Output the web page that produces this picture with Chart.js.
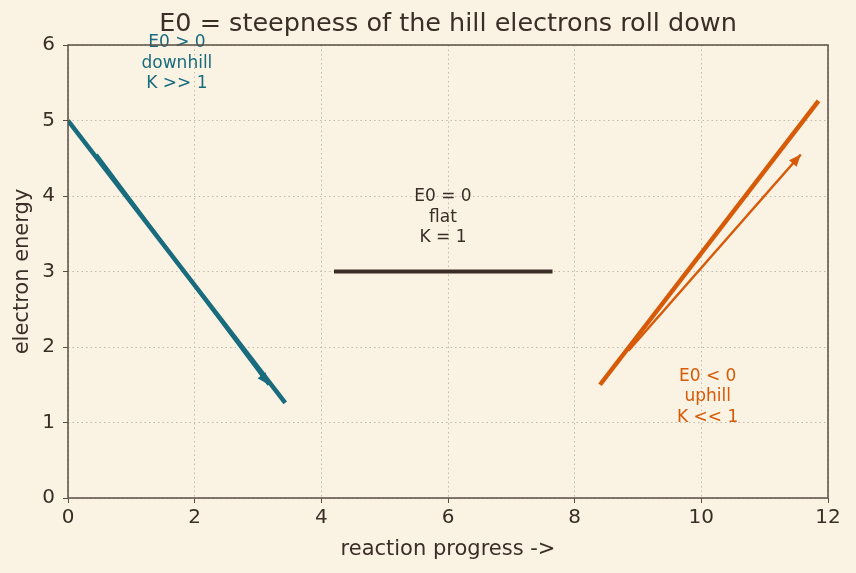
<!DOCTYPE html>
<html lang="en">
<head>
  <meta charset="UTF-8" />
  <title>E0 hill</title>
  <script src="https://cdn.jsdelivr.net/npm/chart.js"></script>
  <style>
    body { margin: 0; background: #faf2e3; }
    #wrap { width: 856px; height: 573px; }
  </style>
</head>
<body>
  <div id="wrap"><canvas id="hill"></canvas></div>
  <script>
    // line ends
    const downhillX = [0, 3.43];
    const downhillY = [5.0, 1.26];
    const downArrowX = [0.45, 3.17];
    const downArrowY = [4.55, 1.5];
    const flatX = [4.2, 7.65];
    const flatY = [3, 3];
    const uphillX = [8.4, 11.85];
    const uphillY = [1.5, 5.26];
    const upArrowX = [8.85, 11.57];
    const upArrowY = [1.95, 4.55];

    const noteText = [['E0 > 0', 'downhill', 'K >> 1'], ['E0 = 0', 'flat', 'K = 1'], ['E0 < 0', 'uphill', 'K << 1']];
    const noteX = [1.72, 5.92, 10.1];
    const noteY = [5.755, 3.72, 1.34];

    const teal = '#186c7d';
    const orange = '#d65a07';
    const ink = '#3a2e26';
    const axisCol = '#5a4e44';
    const gridCol = '#c4baa9';
    const noteCol = [teal, ink, orange];

    const pts = (xs, ys) => xs.map((x, i) => ({ x: x, y: ys[i] }));

    function seg(xs, ys, color, width, arrow) {
      return {
        data: pts(xs, ys),
        showLine: true,
        borderColor: color,
        backgroundColor: color,
        borderWidth: width,
        pointRadius: 0,
        borderCapStyle: 'butt',
        arrow: arrow
      };
    }

    const framePlugin = {
      id: 'frame',
      afterDatasetsDraw(chart) {
        const { ctx, chartArea: a, scales: { x, y } } = chart;
        // arrow heads
        chart.data.datasets.forEach(ds => {
          if (!ds.arrow) return;
          const d = ds.data;
          const x1 = x.getPixelForValue(d[0].x), y1 = y.getPixelForValue(d[0].y);
          const x2 = x.getPixelForValue(d[1].x), y2 = y.getPixelForValue(d[1].y);
          const ang = Math.atan2(y2 - y1, x2 - x1);
          const len = 12, half = 5;
          ctx.save();
          ctx.translate(x2, y2);
          ctx.rotate(ang);
          ctx.fillStyle = ds.borderColor;
          ctx.beginPath();
          ctx.moveTo(0, 0);
          ctx.lineTo(-len, -half);
          ctx.lineTo(-len, half);
          ctx.closePath();
          ctx.fill();
          ctx.restore();
        });
        // text notes
        ctx.save();
        ctx.font = '17px "DejaVu Sans"';
        ctx.textAlign = 'center';
        ctx.textBaseline = 'middle';
        noteText.forEach((lines, i) => {
          const cx = x.getPixelForValue(noteX[i]);
          const cy = y.getPixelForValue(noteY[i]);
          ctx.fillStyle = noteCol[i];
          lines.forEach((t, j) => ctx.fillText(t, cx, cy + (j - 1) * 20.5));
        });
        ctx.restore();
        // box round the plot
        ctx.save();
        ctx.strokeStyle = axisCol;
        ctx.lineWidth = 1.5;
        ctx.strokeRect(a.left, a.top, a.right - a.left, a.bottom - a.top);
        ctx.restore();
      }
    };

    new Chart(document.getElementById('hill'), {
      type: 'scatter',
      data: {
        datasets: [
          seg(downhillX, downhillY, teal, 4.5, false),
          seg(downArrowX, downArrowY, teal, 3, true),
          seg(flatX, flatY, ink, 4, false),
          seg(uphillX, uphillY, orange, 4.5, false),
          seg(upArrowX, upArrowY, orange, 2.5, true)
        ]
      },
      options: {
        responsive: true,
        maintainAspectRatio: false,
        animation: false,
        layout: { padding: { right: 28 } },
        plugins: {
          legend: { display: false },
          tooltip: { enabled: false },
          title: {
            display: true,
            fullSize: false,
            text: 'E0 = steepness of the hill electrons roll down',
            color: ink,
            font: { family: 'DejaVu Sans', size: 25.5, weight: 'normal', lineHeight: 1.2 },
            padding: { top: 9, bottom: 5.4 }
          }
        },
        scales: {
          x: {
            type: 'linear',
            min: 0, max: 12,
            afterFit: s => { s.height = 75; },
            ticks: { stepSize: 2, color: ink, font: { family: 'DejaVu Sans', size: 20 }, padding: 3 },
            grid: { color: gridCol, tickColor: axisCol, tickLength: 5, tickBorderDash: [], lineWidth: 1 },
            border: { display: false, dash: [1.5, 3] },
            title: { display: true, text: 'reaction progress ->', color: ink, font: { family: 'DejaVu Sans', size: 21, lineHeight: 1.2 }, padding: { top: 0, bottom: 11 } }
          },
          y: {
            min: 0, max: 6,
            afterFit: s => { s.width = 68; },
            ticks: { stepSize: 1, color: ink, font: { family: 'DejaVu Sans', size: 20 }, padding: 8 },
            grid: { color: gridCol, tickColor: axisCol, tickLength: 5, tickBorderDash: [], lineWidth: 1 },
            border: { display: false, dash: [1.5, 3] },
            title: { display: true, text: 'electron energy', color: ink, font: { family: 'DejaVu Sans', size: 21, lineHeight: 1.2 }, padding: { top: 10, bottom: 0 } }
          }
        }
      },
      plugins: [framePlugin]
    });
  </script>
</body>
</html>
